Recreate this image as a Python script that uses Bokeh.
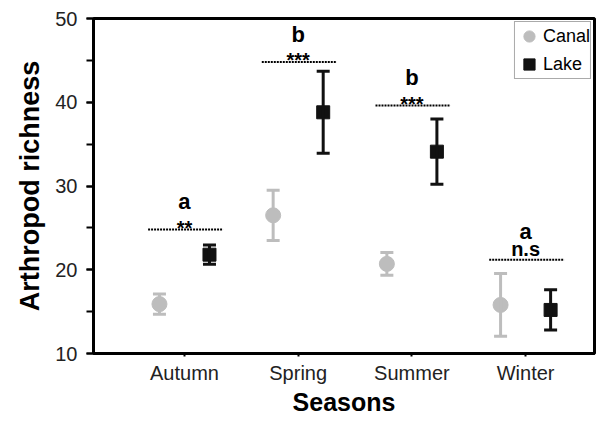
from bokeh.plotting import figure
from bokeh.models import (ColumnDataSource, Whisker, TeeHead, FixedTicker,
                          SingleIntervalTicker, Legend, LegendItem, Range1d)
from bokeh.core.properties import value
from bokeh.embed import file_html
from bokeh.resources import INLINE

# ---- data ----
seasons = ["Autumn", "Spring", "Summer", "Winter"]
canal_mean = [15.9, 26.5, 20.7, 15.8]
canal_err = [1.2, 3.0, 1.35, 3.75]
lake_mean = [21.8, 38.8, 34.1, 15.2]
lake_err = [1.15, 4.9, 3.9, 2.4]
sig_y = [24.8, 44.8, 39.6, 21.2]
sig_marks = ["**", "***", "***", "n.s"]
group_letters = ["a", "b", "b", "a"]
y_ticks_major = 10

FONT = value("Liberation Sans")
CANAL_COL = "#bdbdbd"
LAKE_COL = "#111111"

xs = list(range(len(seasons)))
canal_src = ColumnDataSource(dict(
    x=[i - 0.22 for i in xs], y=canal_mean,
    upper=[m + e for m, e in zip(canal_mean, canal_err)],
    lower=[m - e for m, e in zip(canal_mean, canal_err)]))
lake_src = ColumnDataSource(dict(
    x=[i + 0.22 for i in xs], y=lake_mean,
    upper=[m + e for m, e in zip(lake_mean, lake_err)],
    lower=[m - e for m, e in zip(lake_mean, lake_err)]))
sig_src = ColumnDataSource(dict(
    x=xs, x0=[i - 0.32 for i in xs], x1=[i + 0.34 for i in xs],
    y=sig_y, marks=sig_marks, letters=group_letters,
    moff=[-2 if m.startswith("*") else -11 for m in sig_marks]))

p = figure(width=596, height=418, output_backend="svg", toolbar_location=None,
           x_range=Range1d(-0.80, 3.606), y_range=Range1d(10, 50),
           min_border_left=93, min_border_top=18, min_border_right=2,
           min_border_bottom=60, background_fill_color="white",
           border_fill_color="white")
p.grid.visible = False
p.outline_line_color = "black"
p.outline_line_width = 3

# error bars
for src, col in ((canal_src, CANAL_COL), (lake_src, LAKE_COL)):
    w = Whisker(source=src, base="x", upper="upper", lower="lower",
                line_color=col, line_width=3,
                upper_head=TeeHead(size=13, line_color=col, line_width=3),
                lower_head=TeeHead(size=13, line_color=col, line_width=3))
    w.level = "glyph"
    p.add_layout(w)

canal_r = p.scatter("x", "y", source=canal_src, marker="circle", size=15,
                    fill_color=CANAL_COL, line_color=CANAL_COL)
lake_r = p.scatter("x", "y", source=lake_src, marker="square", size=13,
                   fill_color=LAKE_COL, line_color=LAKE_COL)

# significance lines and labels
p.segment(x0="x0", x1="x1", y0="y", y1="y", source=sig_src,
          line_color="black", line_width=2, line_dash="2 1")
p.text(x="x", y="y", text="marks", source=sig_src, y_offset="moff",
       text_align="center", text_baseline="alphabetic",
       text_font=FONT, text_font_size="20px", text_font_style="bold",
       text_color="black")
p.text(x="x", y="y", text="letters", source=sig_src, y_offset=-28,
       text_align="center", text_baseline="alphabetic",
       text_font=FONT, text_font_size="22px", text_font_style="bold",
       text_color="black")

# axes
p.xaxis.ticker = FixedTicker(ticks=xs)
p.xaxis.major_label_overrides = {i: s for i, s in zip(xs, seasons)}
p.xaxis.minor_tick_line_color = None
p.xaxis.major_tick_out = 3
p.xaxis.major_tick_in = 0
p.xaxis.major_label_standoff = 5
p.xaxis.axis_label = "Seasons"
p.xaxis.axis_label_standoff = 1

p.yaxis.ticker = SingleIntervalTicker(interval=y_ticks_major, num_minor_ticks=2)
p.yaxis.major_tick_out = 7
p.yaxis.major_tick_in = 0
p.yaxis.minor_tick_out = 7
p.yaxis.minor_tick_in = 0
p.yaxis.major_label_standoff = 9
p.yaxis.axis_label = "Arthropod richness"
p.yaxis.axis_label_standoff = 7

for ax in (p.xaxis[0], p.yaxis[0]):
    ax.axis_line_width = 3
    ax.axis_line_color = "black"
    ax.major_tick_line_width = 2
    ax.minor_tick_line_width = 2
    ax.major_tick_line_color = "black"
    ax.minor_tick_line_color = "black" if ax is p.yaxis[0] else None
    ax.major_label_text_font = "Liberation Sans"
    ax.major_label_text_font_size = "20px"
    ax.major_label_text_color = "#222222"
    ax.axis_label_text_font = "Liberation Sans"
    ax.axis_label_text_font_style = "bold"
    ax.axis_label_text_color = "black"
p.xaxis.axis_label_text_font_size = "25px"
p.yaxis.axis_label_text_font_size = "27px"

legend = Legend(items=[LegendItem(label="Canal", renderers=[canal_r]),
                       LegendItem(label="Lake", renderers=[lake_r])],
                location="top_right", margin=3, padding=0, spacing=-4,
                glyph_width=28, glyph_height=28, label_height=28,
                label_standoff=0,
                label_text_font="Liberation Sans", label_text_font_size="18px",
                label_text_color="black",
                border_line_color="#555555", border_line_width=1.5,
                background_fill_color="white", background_fill_alpha=1)
p.add_layout(legend)

open("out.html", "w").write(file_html(p, INLINE))
